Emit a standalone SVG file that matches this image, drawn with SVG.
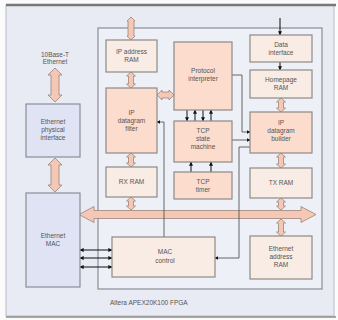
<svg xmlns="http://www.w3.org/2000/svg" width="338" height="320" viewBox="0 0 338 320">
<defs>
<style>
.t{font-family:"Liberation Sans",Arial,sans-serif;font-size:6.5px;fill:#555;text-anchor:middle}
.blue{fill:#dfe3f3;stroke:#8a8c98;stroke-width:1.2}
.pk{fill:#fcdccc;stroke:#8c8a88;stroke-width:1.2}
.lt{fill:#f9ece4;stroke:#8c8a88;stroke-width:1.2}
.pa{fill:#f5c8b6;stroke:#9a8478;stroke-width:0.8}
.ln{fill:none;stroke:#555;stroke-width:0.9}
.bk{fill:none;stroke:#111;stroke-width:1}
</style>
<marker id="ah" viewBox="0 0 6 6" refX="5.5" refY="3" markerWidth="4" markerHeight="4" orient="auto-start-reverse"><path d="M0,0 L6,3 L0,6 z" fill="#111"/></marker>
</defs>
<rect x="0" y="0" width="338" height="320" fill="#fbfbfc"/>
<rect x="6" y="5" width="328" height="311" fill="#e8eaf4" stroke="#b8bac4" stroke-width="1"/>
<line x1="6" y1="5" x2="336" y2="5" stroke="#777" stroke-width="2.5"/>
<line x1="6" y1="317" x2="336" y2="317" stroke="#8a8a8a" stroke-width="1.5"/>
<g id="fpga">
<rect x="98" y="28" width="224" height="261" fill="#eef0f8" stroke="#8a8c98" stroke-width="1.2"/>
<text class="t" x="110" y="305" style="text-anchor:start">Altera APEX20K100 FPGA</text>
</g>
<g id="ethernet-label"><text class="t" x="55" y="57">10Base-T</text><text class="t" x="55" y="64">Ethernet</text></g>
<g id="connectors">
<path class="pa" d="M55,68 L62,75 L59,75 L59,95 L62,95 L55,102 L48,95 L51,95 L51,75 L48,75 Z"/>
<path class="pa" d="M55,158 L62,165 L59,165 L59,185 L62,185 L55,192 L48,185 L51,185 L51,165 L48,165 Z"/>
<path class="pa" d="M79,214.5 L94,206.5 L94,210.5 L301,210.5 L301,206.5 L316,214.5 L301,222.5 L301,218.5 L94,218.5 L94,222.5 Z"/>
<path class="pa" d="M131,17 L135,21 L134,21 L134,36 L135,36 L131,40 L127,36 L128,36 L128,21 L127,21 Z"/>
<path class="pa" d="M131,72 L135.5,76 L133.5,76 L133.5,84 L135.5,84 L131,88 L126.5,84 L128.5,84 L128.5,76 L126.5,76 Z"/>
<path class="pa" d="M131,153 L135.5,157 L133.5,157 L133.5,163 L135.5,163 L131,167 L126.5,163 L128.5,163 L128.5,157 L126.5,157 Z"/>
<path class="pa" d="M131,197 L135.5,201 L133.5,201 L133.5,206 L135.5,206 L131,210 L126.5,206 L128.5,206 L128.5,201 L126.5,201 Z"/>
<path class="pa" d="M281,98 L285.5,102 L283.5,102 L283.5,108 L285.5,108 L281,112 L276.5,108 L278.5,108 L278.5,102 L276.5,102 Z"/>
<path class="pa" d="M281,153 L285.5,157 L283.5,157 L283.5,164 L285.5,164 L281,168 L276.5,164 L278.5,164 L278.5,157 L276.5,157 Z"/>
<path class="pa" d="M281,198 L285.5,202 L283.5,202 L283.5,206 L285.5,206 L281,210 L276.5,206 L278.5,206 L278.5,202 L276.5,202 Z"/>
<path class="pa" d="M281,219 L285.5,223 L283.5,223 L283.5,232 L285.5,232 L281,236 L276.5,232 L278.5,232 L278.5,223 L276.5,223 Z"/>
<path class="pa" d="M157,95 L162,90 L162,92 L169,92 L169,90 L174,95 L169,100 L169,98 L162,98 L162,100 Z"/>
<line class="bk" x1="280" y1="18" x2="280" y2="35" marker-end="url(#ah)"/>
<line class="bk" x1="280" y1="62" x2="280" y2="70" marker-end="url(#ah)"/>
<polyline class="ln" points="232,75 242,75 242,132 250,132" marker-end="url(#ah)"/>
<line class="ln" x1="232" y1="140" x2="250" y2="140" marker-end="url(#ah)"/>
<polyline class="ln" points="250,147 239,147 239,258 215,258" marker-end="url(#ah)"/>
<polyline class="ln" points="164,237 164,122 157,122" marker-end="url(#ah)"/>
<line class="bk" x1="187" y1="110" x2="187" y2="121" marker-end="url(#ah)"/>
<line class="bk" x1="195" y1="121" x2="195" y2="110" marker-end="url(#ah)"/>
<line class="bk" x1="203" y1="110" x2="203" y2="121" marker-end="url(#ah)"/>
<line class="bk" x1="211" y1="121" x2="211" y2="110" marker-end="url(#ah)"/>
<line class="bk" x1="191" y1="172" x2="191" y2="162" marker-end="url(#ah)"/>
<line class="bk" x1="211" y1="172" x2="211" y2="162" marker-end="url(#ah)"/>
<line class="bk" x1="80" y1="250" x2="112" y2="250" marker-start="url(#ah)" marker-end="url(#ah)"/>
<line class="bk" x1="80" y1="258" x2="112" y2="258" marker-start="url(#ah)" marker-end="url(#ah)"/>
<line class="bk" x1="80" y1="267" x2="112" y2="267" marker-start="url(#ah)" marker-end="url(#ah)"/>
</g>
<g id="eth-phy"><rect class="blue" x="26" y="104" width="54" height="53"/><text class="t" x="53" y="124">Ethernet</text><text class="t" x="53" y="132">physical</text><text class="t" x="53" y="140">interface</text></g>
<g id="eth-mac"><rect class="blue" x="26" y="193" width="54" height="94"/><text class="t" x="53" y="238">Ethernet</text><text class="t" x="53" y="246">MAC</text></g>
<g id="ip-addr-ram"><rect class="lt" x="106" y="40" width="51" height="32"/><text class="t" x="131.5" y="54">IP address</text><text class="t" x="131.5" y="62">RAM</text></g>
<g id="ip-filter"><rect class="pk" x="106" y="88" width="51" height="65"/><text class="t" x="131.5" y="115">IP</text><text class="t" x="131.5" y="123">datagram</text><text class="t" x="131.5" y="131">filter</text></g>
<g id="rx-ram"><rect class="lt" x="106" y="167" width="51" height="30"/><text class="t" x="131.5" y="184">RX RAM</text></g>
<g id="protocol"><rect class="pk" x="174" y="42" width="58" height="68"/><text class="t" x="203" y="73">Protocol</text><text class="t" x="203" y="81">interpreter</text></g>
<g id="tcp-state"><rect class="pk" x="174" y="121" width="58" height="41"/><text class="t" x="203" y="133">TCP</text><text class="t" x="203" y="141">state</text><text class="t" x="203" y="149">machine</text></g>
<g id="tcp-timer"><rect class="pk" x="174" y="172" width="58" height="27"/><text class="t" x="203" y="184">TCP</text><text class="t" x="203" y="192">timer</text></g>
<g id="data-if"><rect class="lt" x="250" y="35" width="62" height="27"/><text class="t" x="281" y="47">Data</text><text class="t" x="281" y="55">interface</text></g>
<g id="homepage-ram"><rect class="lt" x="250" y="70" width="62" height="28"/><text class="t" x="281" y="82">Homepage</text><text class="t" x="281" y="90">RAM</text></g>
<g id="ip-builder"><rect class="pk" x="250" y="112" width="62" height="41"/><text class="t" x="281" y="125">IP</text><text class="t" x="281" y="133">datagram</text><text class="t" x="281" y="141">builder</text></g>
<g id="tx-ram"><rect class="lt" x="250" y="168" width="62" height="30"/><text class="t" x="281" y="185">TX RAM</text></g>
<g id="eth-addr-ram"><rect class="lt" x="250" y="236" width="62" height="43"/><text class="t" x="281" y="251">Ethernet</text><text class="t" x="281" y="259">address</text><text class="t" x="281" y="267">RAM</text></g>
<g id="mac-control"><rect class="lt" x="112" y="237" width="103" height="40"/><text class="t" x="165" y="254">MAC</text><text class="t" x="165" y="263">control</text></g>
</svg>
